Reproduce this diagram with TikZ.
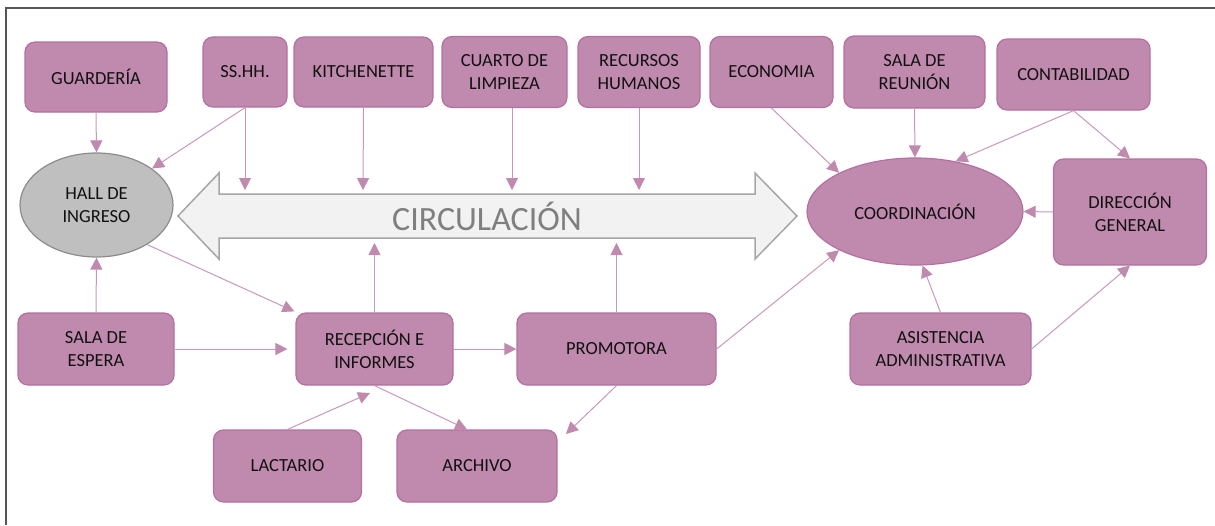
\documentclass[tikz,border=0pt]{standalone}
\usepackage{fontspec}
\setmainfont{Carlito}
\usetikzlibrary{arrows.meta,shapes.geometric}
\definecolor{boxfill}{HTML}{C08AAE}
\definecolor{boxedge}{HTML}{B370A0}
\definecolor{conn}{HTML}{C898BA}
\definecolor{tipc}{HTML}{C08AAE}
\definecolor{txt}{HTML}{111111}
\definecolor{hallfill}{HTML}{BFBFBF}
\definecolor{halledge}{HTML}{8C8C8C}
\definecolor{circfill}{HTML}{F2F2F2}
\definecolor{circedge}{HTML}{A6A6A6}
\definecolor{circtxt}{HTML}{7F7F7F}
\definecolor{frame}{HTML}{555555}
\tikzset{
  roomtxt/.style={text=txt, font=\fontsize{18.5}{23}\selectfont, align=center, inner sep=0pt},
  room/.style={roomtxt, rectangle, rounded corners=10pt, fill=boxfill, draw=boxedge, line width=1.2pt},
  hallshape/.style={roomtxt, ellipse, fill=hallfill, draw=halledge, line width=1.2pt},
  coordshape/.style={roomtxt, ellipse, fill=boxfill, draw=boxedge, line width=1.2pt},
  link/.style={draw=conn, line width=1pt, -{Triangle[length=12pt,width=12pt,color=tipc,fill=tipc]}},
}
\begin{document}
\begin{tikzpicture}[x=1pt,y=-1pt]
\useasboundingbox (0,0) rectangle (1215,525);
\draw[frame, line width=2pt] (5.5,525) -- (5.5,8) -- (1215,8);

% circulation arrow
\draw[fill=circfill, draw=circedge, line width=1.5pt]
  (178,216) -- (219,173) -- (219,194) -- (755,194) -- (755,173) -- (797,216)
  -- (755,259) -- (755,238) -- (219,238) -- (219,259) -- cycle;
\node[text=circtxt, font=\fontsize{34}{40}\selectfont, inner sep=0pt] (circ) at (487,216) {CIRCULACIÓN};

% top row
\node[room, minimum width=142, minimum height=70] (guard) at (96,77) {GUARDERÍA};
\node[room, minimum width=84, minimum height=70] (ss) at (245,72) {SS.HH.};
\node[room, minimum width=139, minimum height=70] (kit) at (363.5,72) {KITCHENETTE};
\node[room, minimum width=125, minimum height=71] (cuarto) at (504.5,72) {CUARTO DE\\LIMPIEZA};
\node[room, minimum width=122, minimum height=71] (rrhh) at (639,72) {RECURSOS\\HUMANOS};
\node[room, minimum width=123, minimum height=71] (eco) at (771.5,72) {ECONOMIA};
\node[room, minimum width=141, minimum height=72] (reun) at (914.5,72) {SALA DE\\REUNIÓN};
\node[room, minimum width=153, minimum height=71] (conta) at (1073.5,74.5) {CONTABILIDAD};

% middle
\node[hallshape, minimum width=153, minimum height=104] (hall) at (96.5,205) {HALL DE\\INGRESO};
\node[coordshape, minimum width=216, minimum height=107] (coord) at (915,211.5) {COORDINACIÓN};
\node[room, minimum width=153, minimum height=106] (dir) at (1130,212) {DIRECCIÓN\\GENERAL};

% lower rows
\node[room, minimum width=156, minimum height=72] (espera) at (96,349) {SALA DE\\ESPERA};
\node[room, minimum width=157, minimum height=72] (recep) at (374.5,349) {RECEPCIÓN E\\INFORMES};
\node[room, minimum width=199, minimum height=72] (promo) at (616.5,349) {PROMOTORA};
\node[room, minimum width=181, minimum height=72] (asist) at (940.5,349) {ASISTENCIA\\ADMINISTRATIVA};
\node[room, minimum width=148, minimum height=72] (lact) at (287.5,466) {LACTARIO};
\node[room, minimum width=160, minimum height=72] (arch) at (477,466) {ARCHIVO};

% free ends
\coordinate (c1) at (245,190);
\coordinate (c2) at (363,190);
\coordinate (c3) at (512,190);
\coordinate (c4) at (639,190);
\coordinate (c5) at (374.5,243);
\coordinate (c6) at (616.5,243);
\coordinate (r1) at (370,393);
\coordinate (a1) at (566,434);

% connectors
\draw[link] (guard.south) -- (hall.north);
\draw[link] (ss.south) -- (hall);
\draw[link] (ss.south) -- (c1);
\draw[link] (kit.south) -- (c2);
\draw[link] ([xshift=7.5pt]cuarto.south) -- (c3);
\draw[link] (rrhh.south) -- (c4);
\draw[link] (eco.south) -- (coord.153);
\draw[link] (reun.south) -- (coord.north);
\draw[link] (conta.south) -- (coord.51);
\draw[link] (conta.south) -- (dir.north);
\draw[link] (dir.west) -- (coord.east);
\draw[link] (hall.-38) -- ([xshift=-1pt,yshift=1pt]recep.north west);
\draw[link] (espera.north) -- (hall.south);
\draw[link, shorten >=8pt] (espera.east) -- (recep.west);
\draw[link] (recep.north) -- (c5);
\draw[link] (recep.east) -- (promo.west);
\draw[link] (promo.north) -- (c6);
\draw[link] (promo.east) -- (coord.207);
\draw[link] (lact.north) -- (r1);
\draw[link] (recep.south) -- ([xshift=-10pt]arch.north);
\draw[link] (promo.south) -- (a1);
\draw[link] (asist.north) -- (coord.278);
\draw[link] (asist.east) -- (dir.south);
\end{tikzpicture}
\end{document}
